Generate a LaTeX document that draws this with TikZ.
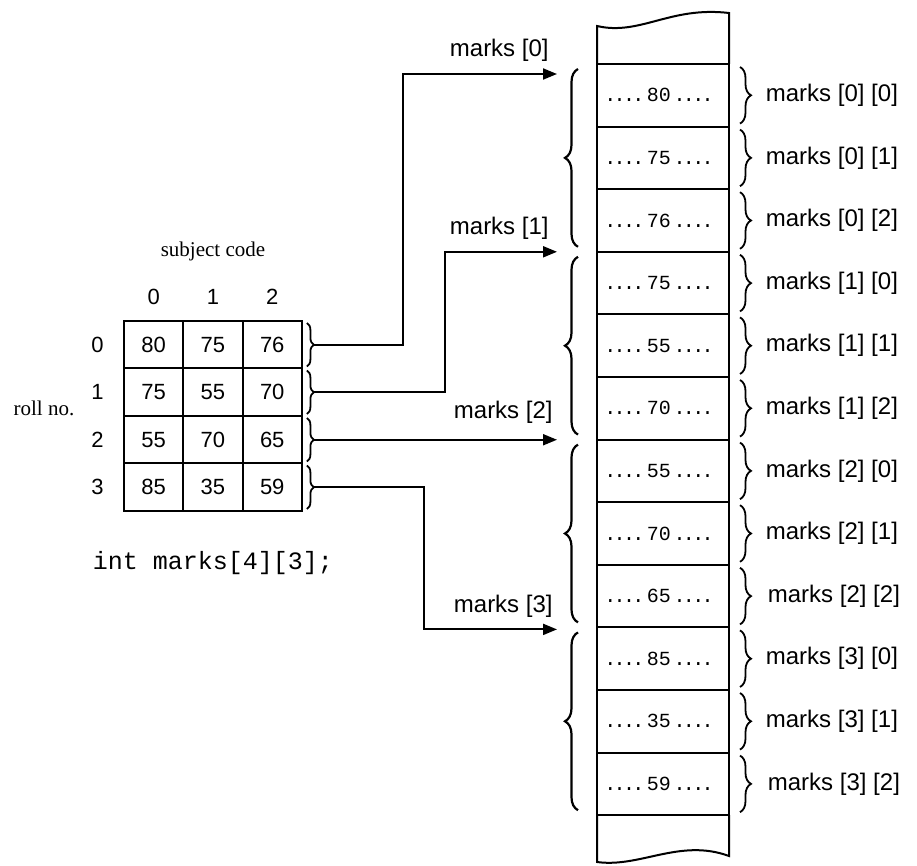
\documentclass[tikz,border=0pt]{standalone}
\usepackage{fontspec}
\setmainfont{Liberation Serif}
\setsansfont{Liberation Sans}
\setmonofont{Liberation Mono}
\usepackage{tikz}
\usetikzlibrary{arrows.meta, positioning, calc, decorations.pathreplacing}
\newcommand{\dotrun}{\xleaders\hbox to 4pt{\hss.\hss}\hfill}
\newcommand{\cellval}[1]{\hbox to 58pt{\dotrun\,#1\,\dotrun\hskip 4pt}}

\begin{document}
\begin{tikzpicture}[
    x=0.5pt, y=-0.5pt,
    node distance=0pt,
    slot/.style={
      rectangle, draw, line width=1pt, inner sep=0pt, outer sep=0pt,
      minimum width=66pt, minimum height=31.3pt,
      font=\ttfamily\fontsize{10}{11}\selectfont
    },
    tcell/.style={
      rectangle, draw, line width=1pt, inner sep=0pt, outer sep=0pt,
      minimum width=29.65pt, minimum height=23.75pt,
      font=\sffamily\fontsize{11}{13}\selectfont
    },
    idx/.style={inner sep=0pt, font=\sffamily\fontsize{11}{13}\selectfont},
    lbl/.style={inner sep=0pt, font=\sffamily\fontsize{12}{14}\selectfont},
    txt/.style={inner sep=0pt, font=\rmfamily\fontsize{10.5}{12}\selectfont},
    decl/.style={inner sep=0pt, font=\ttfamily\fontsize{12.5}{14}\selectfont},
    rbrace/.style={decorate, decoration={brace, amplitude=5.5pt, raise=5.5pt}, line width=0.9pt},
    gbrace/.style={decorate, decoration={brace, amplitude=6.5pt, raise=9.5pt}, line width=1.1pt},
    tbrace/.style={decorate, decoration={brace, amplitude=3.5pt, raise=2.5pt}, line width=0.9pt},
    arr/.style={-{Triangle[length=7pt, width=5.5pt]}, line width=1pt},
  ]
  \useasboundingbox (0,0) rectangle (917,866);

  \node[slot] (m00) at (663,95.3) {\cellval{80}};
  \node[slot, below=of m00] (m01) {\cellval{75}};
  \node[slot, below=of m01] (m02) {\cellval{76}};
  \node[slot, below=of m02] (m10) {\cellval{75}};
  \node[slot, below=of m10] (m11) {\cellval{55}};
  \node[slot, below=of m11] (m12) {\cellval{70}};
  \node[slot, below=of m12] (m20) {\cellval{55}};
  \node[slot, below=of m20] (m21) {\cellval{70}};
  \node[slot, below=of m21] (m22) {\cellval{65}};
  \node[slot, below=of m22] (m30) {\cellval{85}};
  \node[slot, below=of m30] (m31) {\cellval{35}};
  \node[slot, below=of m31] (m32) {\cellval{59}};

  \draw[line width=1pt] (m00.north west) -- (597,26) .. controls (640,36) and (670,6) .. (729,13) -- (m00.north east);
  \draw[line width=1pt] (m32.south west) -- (597,862) .. controls (640,868) and (680,838) .. (729,856) -- (m32.south east);

  \draw[rbrace] ([yshift=-1.5pt]m00.north east) -- ([yshift=1.5pt]m00.south east) node[lbl, midway, right=18pt] (l00) {marks [0] [0]};
  \draw[rbrace] ([yshift=-1.5pt]m01.north east) -- ([yshift=1.5pt]m01.south east) node[lbl, midway, right=18pt] (l01) {marks [0] [1]};
  \draw[rbrace] ([yshift=-1.5pt]m02.north east) -- ([yshift=1.5pt]m02.south east) node[lbl, midway, right=18pt] (l02) {marks [0] [2]};
  \draw[rbrace] ([yshift=-1.5pt]m10.north east) -- ([yshift=1.5pt]m10.south east) node[lbl, midway, right=18pt] (l10) {marks [1] [0]};
  \draw[rbrace] ([yshift=-1.5pt]m11.north east) -- ([yshift=1.5pt]m11.south east) node[lbl, midway, right=18pt] (l11) {marks [1] [1]};
  \draw[rbrace] ([yshift=-1.5pt]m12.north east) -- ([yshift=1.5pt]m12.south east) node[lbl, midway, right=18pt] (l12) {marks [1] [2]};
  \draw[rbrace] ([yshift=-1.5pt]m20.north east) -- ([yshift=1.5pt]m20.south east) node[lbl, midway, right=18pt] (l20) {marks [2] [0]};
  \draw[rbrace] ([yshift=-1.5pt]m21.north east) -- ([yshift=1.5pt]m21.south east) node[lbl, midway, right=18pt] (l21) {marks [2] [1]};
  \draw[rbrace] ([yshift=-1.5pt]m22.north east) -- ([yshift=1.5pt]m22.south east) node[lbl, midway, right=19pt] (l22) {marks [2] [2]};
  \draw[rbrace] ([yshift=-1.5pt]m30.north east) -- ([yshift=1.5pt]m30.south east) node[lbl, midway, right=18pt] (l30) {marks [3] [0]};
  \draw[rbrace] ([yshift=-1.5pt]m31.north east) -- ([yshift=1.5pt]m31.south east) node[lbl, midway, right=18pt] (l31) {marks [3] [1]};
  \draw[rbrace] ([yshift=-1.5pt]m32.north east) -- ([yshift=1.5pt]m32.south east) node[lbl, midway, right=19pt] (l32) {marks [3] [2]};

  \draw[gbrace] ([yshift=2.5pt]m02.south west) -- ([yshift=-2.5pt]m00.north west);
  \draw[gbrace] ([yshift=2.5pt]m12.south west) -- ([yshift=-2.5pt]m10.north west);
  \draw[gbrace] ([yshift=2.5pt]m22.south west) -- ([yshift=-2.5pt]m20.north west);
  \draw[gbrace] ([yshift=2.5pt]m32.south west) -- ([yshift=-2.5pt]m30.north west);

  \node[tcell] (t00) at (153.65,344.75) {80};
  \node[tcell, right=of t00] (t01) {75};
  \node[tcell, right=of t01] (t02) {76};
  \node[tcell, below=of t00] (t10) {75};
  \node[tcell, right=of t10] (t11) {55};
  \node[tcell, right=of t11] (t12) {70};
  \node[tcell, below=of t10] (t20) {55};
  \node[tcell, right=of t20] (t21) {70};
  \node[tcell, right=of t21] (t22) {65};
  \node[tcell, below=of t20] (t30) {85};
  \node[tcell, right=of t30] (t31) {35};
  \node[tcell, right=of t31] (t32) {59};

  \node[idx, above=8pt of t00] (col0) {0};
  \node[idx, above=8pt of t01] (col1) {1};
  \node[idx, above=8pt of t02] (col2) {2};
  \node[idx, left=10pt of t00] (row0) {0};
  \node[idx, left=10pt of t10] (row1) {1};
  \node[idx, left=10pt of t20] (row2) {2};
  \node[idx, left=10pt of t30] (row3) {3};
  \node[txt, above=14pt of col1] (subj) {subject code};
  \node[txt] (roll) at (44,408) {roll no.};
  \node[decl, below=20pt of t31] (arr) {int marks[4][3];};

  \draw[tbrace] ([yshift=-1pt]t02.north east) -- ([yshift=1pt]t02.south east) coordinate[midway, xshift=6pt] (b0);
  \draw[tbrace] ([yshift=-1pt]t12.north east) -- ([yshift=1pt]t12.south east) coordinate[midway, xshift=6pt] (b1);
  \draw[tbrace] ([yshift=-1pt]t22.north east) -- ([yshift=1pt]t22.south east) coordinate[midway, xshift=6pt] (b2);
  \draw[tbrace] ([yshift=-1pt]t32.north east) -- ([yshift=1pt]t32.south east) coordinate[midway, xshift=6pt] (b3);

  \coordinate (g0) at ([xshift=-20pt,yshift=-5pt]m00.north west);
  \coordinate (g1) at ([xshift=-20pt]m10.north west);
  \coordinate (g2) at ([xshift=-20pt]m20.north west);
  \coordinate (g3) at ([xshift=-20pt,yshift=-1pt]m30.north west);

  \draw[arr] (b0) -- ++(89,0) |- (g0);
  \draw[arr] (b1) -- ++(131,0) |- (g1);
  \draw[arr] (b2) -- (b2 -| g2);
  \draw[arr] (b3) -- ++(110,0) |- (g3);

  \node[lbl, above left=6pt and 4pt of g0] (p0) {marks [0]};
  \node[lbl, above left=6pt and 4pt of g1] (p1) {marks [1]};
  \node[lbl, above left=8pt and 2pt of g2] (p2) {marks [2]};
  \node[lbl, above left=6pt and 2pt of g3] (p3) {marks [3]};
\end{tikzpicture}
\end{document}
